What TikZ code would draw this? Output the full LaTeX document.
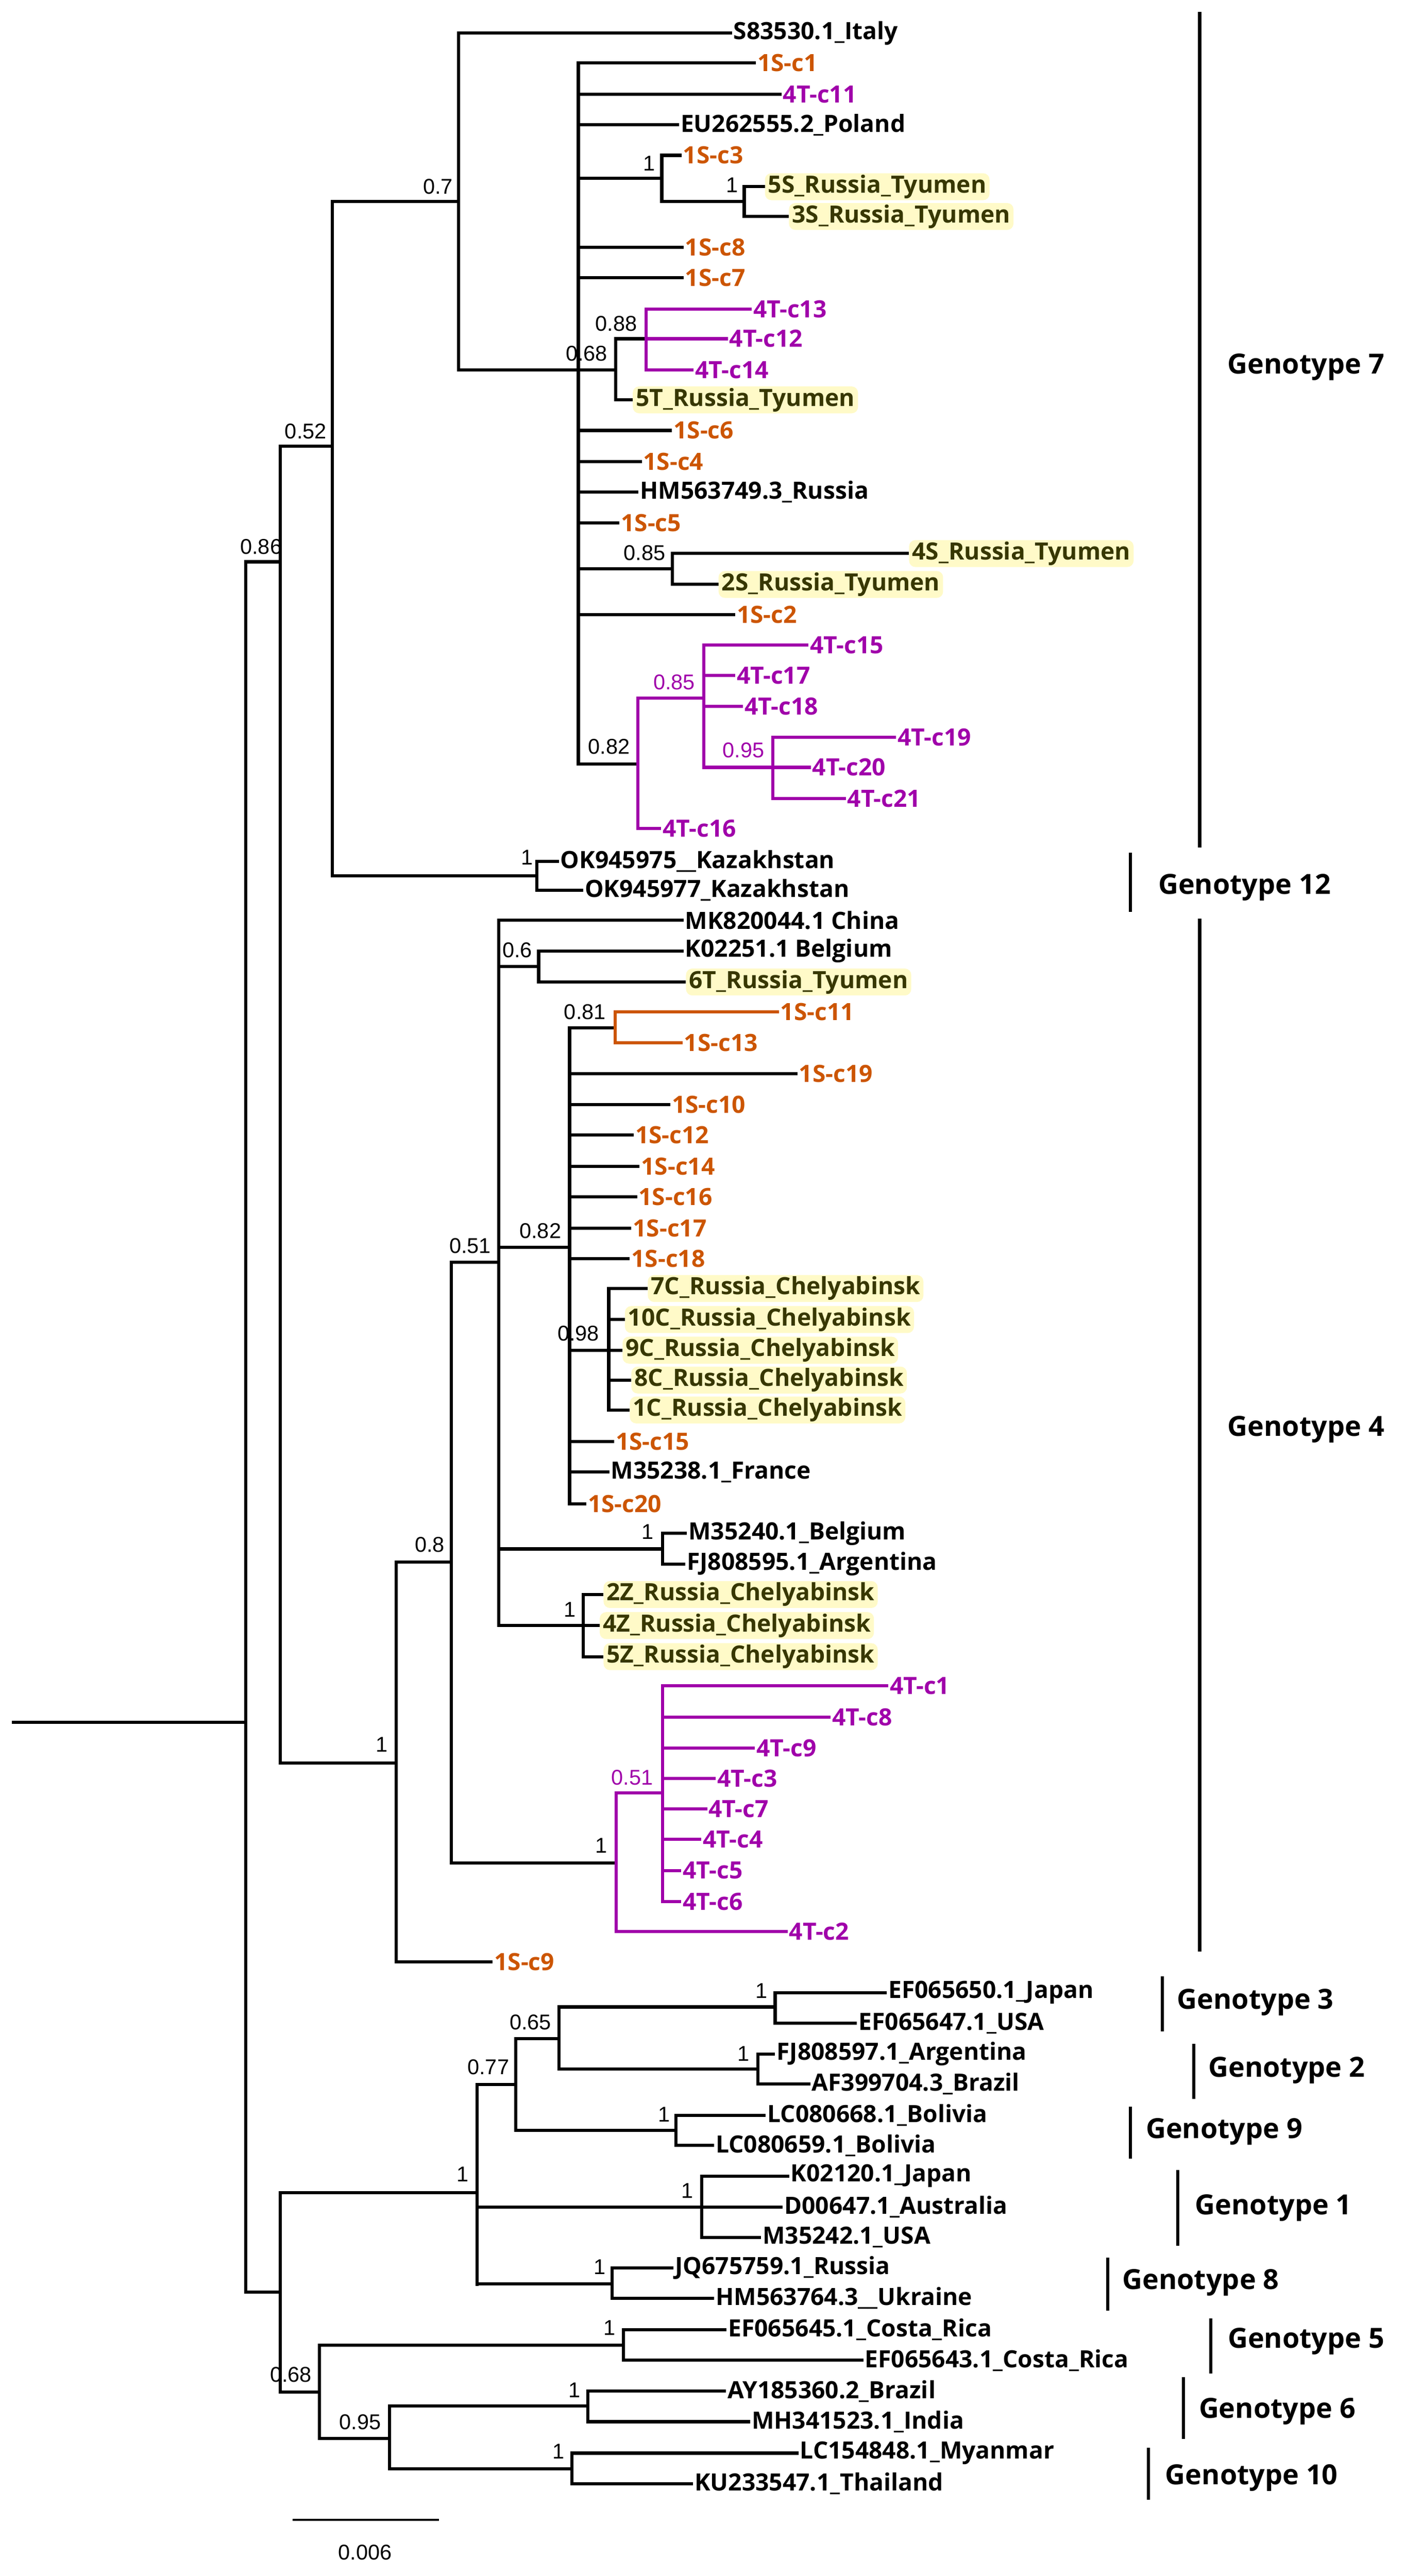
\documentclass[tikz,border=0pt]{standalone}
\usepackage{fontspec}
\setmainfont{Open Sans}
\newfontfamily\supfont{Liberation Sans}
\definecolor{orgc}{RGB}{204,85,0}
\definecolor{purc}{RGB}{160,0,170}
\definecolor{hlfill}{RGB}{255,250,200}
\definecolor{hltext}{RGB}{55,55,0}
\begin{document}
\begin{tikzpicture}[x=0.3665mm,y=-0.3665mm,line width=0.7mm,line cap=rect]
\tikzset{
  lab/.style={anchor=west,inner sep=1pt,font=\fontsize{15}{15}\bfseries},
  blk/.style={lab,black},
  org/.style={lab,orgc},
  pur/.style={lab,purc},
  hl/.style={lab,hltext,fill=hlfill,rounded corners=4pt,inner xsep=2pt},
  sup/.style={inner sep=0pt,font=\fontsize{13.5}{13.5}\supfont},
  gen/.style={anchor=west,inner sep=0pt,font=\fontsize{17.5}{17.5}\bfseries},
}
% leaf: from x #1 at y #2 to tip #3, label #4, style #5
\newcommand\leaf[5]{\draw (#1,#2) -- (#3,#2) node[#5] {#4};}
\newcommand\cleaf[6]{\draw[#6] (#1,#2) -- (#3,#2) node[#5] {#4};}
\newcommand\supp[3][black]{\node[sup,#1] at (#2) {#3};}
\useasboundingbox (0,0) rectangle (850,1559);

    %ROOT
    \draw (8,1042.2) -- (148.6,1042.2);
    \draw (148.6,340) -- (148.6,1387.3);
    \draw (148.6,340) -- (169.5,340);
    \draw (169.5,270) -- (169.5,1066.9);
    \draw (169.5,270) -- (201,270);
    \draw (201,122) -- (201,530);
    \draw (201,122) -- (277.5,122);
    \draw (277.5,20) -- (277.5,224);
    \leaf{277.5}{20}{442}{S83530.1\_Italy}{blk}
    \draw (277.5,224) -- (372.5,224);

    %GENOTYPE 7
    \draw (350,38) -- (350,462.5);
    \leaf{350}{38}{456.5}{1S-c1}{org}
    \leaf{350}{57}{472}{4T-c11}{pur}
    \leaf{350}{75.5}{410}{EU262555.2\_Poland}{blk}
    \draw (350,108) -- (400.5,108);
    \draw (400.5,94) -- (400.5,122);
    \leaf{400.5}{94}{411.5}{1S-c3}{org}
    \draw (400.5,122) -- (450.4,122);
    \draw (450.4,113) -- (450.4,131);
    \leaf{450.4}{113}{462}{5S\_Russia\_Tyumen}{hl}
    \leaf{450.4}{131}{476.5}{3S\_Russia\_Tyumen}{hl}
    \leaf{350}{149.6}{412.7}{1S-c8}{org}
    \leaf{350}{168}{412.7}{1S-c7}{org}
    \draw (372.5,205) -- (372.5,242);
    \leaf{372.5}{242}{382}{5T\_Russia\_Tyumen}{hl}
    \draw (372.5,205) -- (391,205);
    \draw[purc] (391,187) -- (391,224);
    \cleaf{391}{187}{454}{4T-c13}{pur}{purc}
    \cleaf{391}{205}{439.5}{4T-c12}{pur}{purc}
    \cleaf{391}{224}{418.8}{4T-c14}{pur}{purc}
    \leaf{350}{260.5}{405.7}{1S-c6}{org}
    \leaf{350}{279.5}{387.4}{1S-c4}{org}
    \leaf{350}{297.7}{385.4}{HM563749.3\_Russia}{blk}
    \leaf{350}{316.4}{373.9}{1S-c5}{org}
    \draw (350,344.2) -- (407,344.2);
    \draw (407,335) -- (407,353.7);
    \leaf{407}{335}{549.2}{4S\_Russia\_Tyumen}{hl}
    \leaf{407}{353.7}{433.9}{2S\_Russia\_Tyumen}{hl}
    \leaf{350}{371.9}{444}{1S-c2}{org}
    \draw (350,462.5) -- (386,462.5);
    \draw[purc] (386,422.6) -- (386,501.5);
    \draw[purc] (386,422.6) -- (426,422.6);
    \draw[purc] (426,390.5) -- (426,464.4);
    \cleaf{426}{390.5}{488.4}{4T-c15}{pur}{purc}
    \cleaf{426}{408.7}{444}{4T-c17}{pur}{purc}
    \cleaf{426}{427.4}{448.8}{4T-c18}{pur}{purc}
    \draw[purc] (426,464.4) -- (467.8,464.4);
    \draw[purc] (467.8,446.2) -- (467.8,483.3);
    \cleaf{467.8}{446.2}{541.4}{4T-c19}{pur}{purc}
    \cleaf{467.8}{464.4}{489.7}{4T-c20}{pur}{purc}
    \cleaf{467.8}{483.3}{510.9}{4T-c21}{pur}{purc}
    \cleaf{386}{501.5}{399.2}{4T-c16}{pur}{purc}

    %GENOTYPE 12
    \draw (201,530) -- (324.9,530);
    \draw (324.9,521.2) -- (324.9,538.7);
    \leaf{324.9}{521.2}{337.3}{OK945975\_\_Kazakhstan}{blk}
    \leaf{324.9}{538.7}{352}{OK945977\_Kazakhstan}{blk}

    %GENOTYPE 4
    \draw (169.5,1066.9) -- (239.8,1066.9);
    \draw (239.8,945.5) -- (239.8,1187.3);
    \leaf{239.8}{1187.3}{297.2}{1S-c9}{org}
    \draw (239.8,945.5) -- (273.2,945.5);
    \draw (273.2,764) -- (273.2,1127.4);
    \draw (273.2,764) -- (301.8,764);
    \draw (301.8,557) -- (301.8,983.8);
    \leaf{301.8}{557}{412.7}{MK820044.1 China}{blk}
    \draw (301.8,584.8) -- (326,584.8);
    \draw (326,575.5) -- (326,594.3);
    \leaf{326}{575.5}{412.7}{K02251.1 Belgium}{blk}
    \leaf{326}{594.3}{414.2}{6T\_Russia\_Tyumen}{hl}
    \draw (301.8,754.9) -- (344.7,754.9);
    \draw (344.7,622.1) -- (344.7,910.1);
    \draw (344.7,622.1) -- (372.2,622.1);
    \draw[orgc] (372.2,612.4) -- (372.2,631);
    \cleaf{372.2}{612.4}{470.4}{1S-c11}{org}{orgc}
    \cleaf{372.2}{631}{412.1}{1S-c13}{org}{orgc}
    \leaf{344.7}{649.7}{481.6}{1S-c19}{org}
    \leaf{344.7}{668.5}{404.7}{1S-c10}{org}
    \leaf{344.7}{687}{382.6}{1S-c12}{org}
    \leaf{344.7}{705.8}{386.1}{1S-c14}{org}
    \leaf{344.7}{724.4}{384.6}{1S-c16}{org}
    \leaf{344.7}{743.2}{381.1}{1S-c17}{org}
    \leaf{344.7}{761.7}{380.2}{1S-c18}{org}
    \draw (344.7,817.1) -- (368.4,817.1);
    \draw (368.4,779.8) -- (368.4,853.3);
    \leaf{368.4}{779.8}{391.1}{7C\_Russia\_Chelyabinsk}{hl}
    \leaf{368.4}{798.6}{377.2}{10C\_Russia\_Chelyabinsk}{hl}
    \leaf{368.4}{817.1}{375.8}{9C\_Russia\_Chelyabinsk}{hl}
    \leaf{368.4}{835.2}{381.1}{8C\_Russia\_Chelyabinsk}{hl}
    \leaf{368.4}{853.3}{380.2}{1C\_Russia\_Chelyabinsk}{hl}
    \leaf{344.7}{872.5}{370.7}{1S-c15}{org}
    \leaf{344.7}{890.9}{367.8}{M35238.1\_France}{blk}
    \leaf{344.7}{910.1}{353.9}{1S-c20}{org}
    \draw (301.8,937.4) -- (400.9,937.4);
    \draw (400.9,928) -- (400.9,946.6);
    \leaf{400.9}{928}{414.8}{M35240.1\_Belgium}{blk}
    \leaf{400.9}{946.6}{413.8}{FJ808595.1\_Argentina}{blk}
    \draw (301.8,983.8) -- (352.9,983.8);
    \draw (352.9,965) -- (352.9,1002.6);
    \leaf{352.9}{965}{364.3}{2Z\_Russia\_Chelyabinsk}{hl}
    \leaf{352.9}{983.8}{362}{4Z\_Russia\_Chelyabinsk}{hl}
    \leaf{352.9}{1002.6}{364.3}{5Z\_Russia\_Chelyabinsk}{hl}
    \draw (273.2,1127.4) -- (373,1127.4);
    \draw[purc] (373,1085) -- (373,1169);
    \draw[purc] (373,1085) -- (400.9,1085);
    \draw[purc] (400.9,1020.3) -- (400.9,1150.8);
    \cleaf{400.9}{1020.3}{536.6}{4T-c1}{pur}{purc}
    \cleaf{400.9}{1039.1}{501.8}{4T-c8}{pur}{purc}
    \cleaf{400.9}{1057.9}{455.9}{4T-c9}{pur}{purc}
    \cleaf{400.9}{1076.3}{432.2}{4T-c3}{pur}{purc}
    \cleaf{400.9}{1094.8}{427}{4T-c7}{pur}{purc}
    \cleaf{400.9}{1113.2}{423.5}{4T-c4}{pur}{purc}
    \cleaf{400.9}{1132}{411.3}{4T-c5}{pur}{purc}
    \cleaf{400.9}{1150.8}{411.3}{4T-c6}{pur}{purc}
    \cleaf{373}{1169}{475.7}{4T-c2}{pur}{purc}

    %OTHER GENOTYPES
    \draw (148.6,1387.3) -- (169.6,1387.3);
    \draw (169.6,1326.9) -- (169.6,1447.8);
    \draw (169.6,1326.9) -- (288.6,1326.9);
    \draw (288.6,1261.6) -- (288.6,1382.6);
    \draw (288.6,1261.6) -- (312.2,1261.6);
    \draw (312.2,1233.9) -- (312.2,1289.4);
    \draw (312.2,1233.9) -- (338.2,1233.9);
    \draw (338.2,1214.6) -- (338.2,1252.1);
    \draw (338.2,1214.6) -- (469.1,1214.6);
    \draw (469.1,1205.9) -- (469.1,1224.4);
    \leaf{469.1}{1205.9}{535.7}{EF065650.1\_Japan}{blk}
    \leaf{469.1}{1224.4}{517.7}{EF065647.1\_USA}{blk}
    \draw (338.2,1252.1) -- (458.7,1252.1);
    \draw (458.7,1243.1) -- (458.7,1261.1);
    \leaf{458.7}{1243.1}{468.1}{FJ808597.1\_Argentina}{blk}
    \leaf{458.7}{1261.1}{489.4}{AF399704.3\_Brazil}{blk}
    \draw (312.2,1289.4) -- (409.1,1289.4);
    \draw (409.1,1280.1) -- (409.1,1298.4);
    \leaf{409.1}{1280.1}{462.5}{LC080668.1\_Bolivia}{blk}
    \leaf{409.1}{1298.4}{431.3}{LC080659.1\_Bolivia}{blk}
    \draw (424.7,1316.9) -- (424.7,1354.1);
    \leaf{288.6}{1335.6}{472.8}{D00647.1\_Australia}{blk}
    \leaf{424.7}{1316.9}{476.6}{K02120.1\_Japan}{blk}
    \leaf{424.7}{1354.1}{459.6}{M35242.1\_USA}{blk}
    \draw (288.6,1382.1) -- (370.3,1382.1);
    \draw (370.3,1372.6) -- (370.3,1390.9);
    \leaf{370.3}{1372.6}{406.7}{JQ675759.1\_Russia}{blk}
    \leaf{370.3}{1390.9}{431.3}{HM563764.3\_\_Ukraine}{blk}
    \draw (169.6,1447.8) -- (193.2,1447.8);
    \draw (193.2,1419.4) -- (193.2,1475.8);
    \draw (193.2,1419.4) -- (377.4,1419.4);
    \draw (377.4,1409.9) -- (377.4,1428.4);
    \leaf{377.4}{1409.9}{438.8}{EF065645.1\_Costa\_Rica}{blk}
    \leaf{377.4}{1428.4}{521.5}{EF065643.1\_Costa\_Rica}{blk}
    \draw (193.2,1475.8) -- (235.7,1475.8);
    \draw (235.7,1456.1) -- (235.7,1494.1);
    \draw (235.7,1456.1) -- (355.7,1456.1);
    \draw (355.7,1447.1) -- (355.7,1465.6);
    \leaf{355.7}{1447.1}{438.4}{AY185360.2\_Brazil}{blk}
    \leaf{355.7}{1465.6}{453}{MH341523.1\_India}{blk}
    \draw (235.7,1494.1) -- (346.2,1494.1);
    \draw (346.2,1484.6) -- (346.2,1503.1);
    \leaf{346.2}{1484.6}{482.3}{LC154848.1\_Myanmar}{blk}
    \leaf{346.2}{1503.1}{418.5}{KU233547.1\_Thailand}{blk}

    %SUPPORT VALUES
    \supp{265,113}{0.7} \supp{393,99}{1} \supp{443,112}{1}
    \supp{373,196}{0.88} \supp{355,214}{0.68} \supp{390,334.6}{0.85}
    \supp{368.5,452}{0.82} \supp[purc]{408,413}{0.85} \supp[purc]{450,454}{0.95}
    \supp{185,261}{0.52} \supp{158,331}{0.86} \supp{319,519}{1}
    \supp{313,575}{0.6} \supp{354,612.5}{0.81} \supp{327,745}{0.82}
    \supp{284.5,754}{0.51} \supp{350,807}{0.98} \supp{392,927}{1}
    \supp{345,974}{1} \supp{260,934.7}{0.8} \supp{231,1055.8}{1}
    \supp{364,1117}{1} \supp[purc]{382.6,1075.7}{0.51}
    \supp{280,1316}{1} \supp{295.5,1251}{0.77} \supp{321,1223.8}{0.65}
    \supp{461,1204.9}{1} \supp{450,1242.8}{1} \supp{402,1279.6}{1}
    \supp{416,1325.9}{1} \supp{363,1372}{1} \supp{176,1437}{0.68}
    \supp{369,1408.9}{1} \supp{218,1465.8}{0.95} \supp{347.7,1446.4}{1}
    \supp{338,1483.6}{1}

    %GENOTYPE BARS
    \draw (726,8) -- (726,512) (742,222) node[gen] {Genotype 7};
    \draw (684,517) -- (684,551) (700,537) node[gen] {Genotype 12};
    \draw (726,557) -- (726,1180) (742,865) node[gen] {Genotype 4};
    \draw (703.4,1196.9) -- (703.4,1228.4) (711.4,1211.8) node[gen] {Genotype 3};
    \draw (722.3,1237.9) -- (722.3,1269.4) (730.3,1252.8) node[gen] {Genotype 2};
    \draw (684,1275.8) -- (684,1305.5) (692.5,1290) node[gen] {Genotype 9};
    \draw (712.8,1314.3) -- (712.8,1358.2) (722.3,1336.3) node[gen] {Genotype 1};
    \draw (670.3,1367.2) -- (670.3,1397.5) (678.3,1381.4) node[gen] {Genotype 8};
    \draw (732.7,1403.9) -- (732.7,1435.5) (742.1,1417) node[gen] {Genotype 5};
    \draw (716.1,1439.5) -- (716.1,1475.1) (724.6,1459.2) node[gen] {Genotype 6};
    \draw (694.9,1482.2) -- (694.9,1511.9) (704.3,1499.5) node[gen] {Genotype 10};

    %SCALE
    \draw[line width=0.45mm] (177.6,1524.9) -- (265,1524.9);
    \node[sup] (scale) at (221,1544.6) {0.006};
\end{tikzpicture}
\end{document}
